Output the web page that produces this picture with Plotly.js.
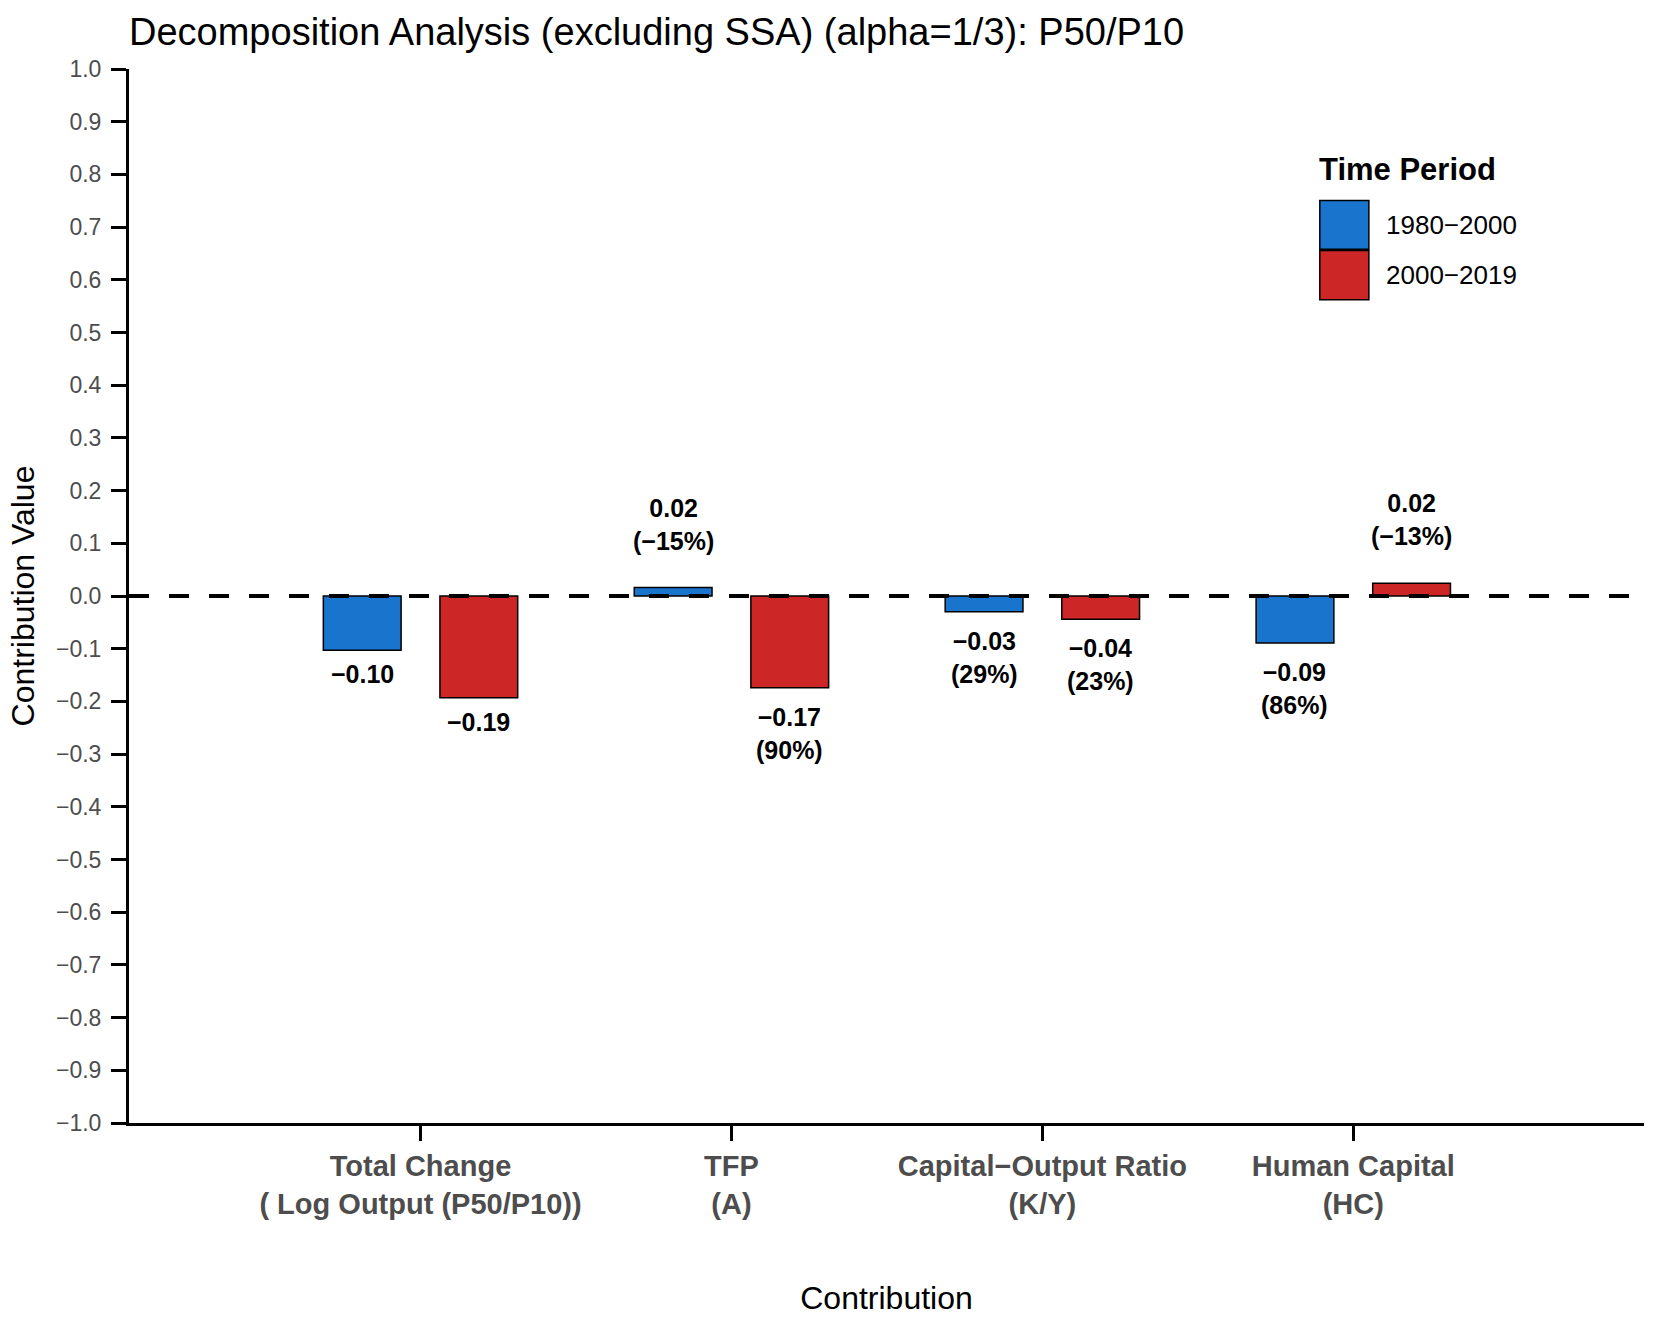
<!DOCTYPE html>
<html>
<head>
<meta charset="utf-8">
<script src="https://cdn.plot.ly/plotly-3.0.1.min.js"></script>
<style>html,body{margin:0;padding:0;background:#fff;}#chart{width:1661px;height:1330px;}</style>
</head>
<body>
<div id="chart"></div>
<script>
// ---- data ----
const categories = [
  'Total Change<br>( Log Output (P50/P10))',
  'TFP<br>(A)',
  'Capital\u2212Output Ratio<br>(K/Y)',
  'Human Capital<br>(HC)'
];
const periods = ['1980\u22122000', '2000\u22122019'];
const values1980 = [-0.103, 0.016, -0.030, -0.089];
const values2000 = [-0.193, -0.174, -0.044, 0.024];
const share1980 = [null, '\u221215%', '29%', '86%'];
const share2000 = [null, '90%', '23%', '\u221213%'];
const colors = ['#1874CD', '#CD2626'];
const yTickVals = [-1.0,-0.9,-0.8,-0.7,-0.6,-0.5,-0.4,-0.3,-0.2,-0.1,0.0,0.1,0.2,0.3,0.4,0.5,0.6,0.7,0.8,0.9,1.0];

const FONT = 'Liberation Sans, Arial, Helvetica, sans-serif';
const series = [values1980, values2000];
const shares = [share1980, share2000];
const offsets = [-0.1875, 0.1875];

function fmt(v) {
  const s = v.toFixed(2);
  return s.replace('-', '\u2212');
}

const traces = series.map((vals, s) => ({
  type: 'bar',
  name: periods[s],
  x: categories,
  y: vals,
  marker: {color: colors[s], line: {color: '#000', width: 1.5}},
  showlegend: false,
  hoverinfo: 'x+y'
}));

const annotations = [];
series.forEach((vals, s) => {
  vals.forEach((v, i) => {
    const sh = shares[s][i];
    const txt = fmt(v) + (sh ? '<br>(' + sh + ')' : '');
    annotations.push({
      x: i + offsets[s], xref: 'x',
      y: v, yref: 'y',
      text: txt,
      showarrow: false,
      xanchor: 'center',
      yanchor: v < 0 ? 'top' : 'bottom',
      yshift: v < 0 ? (sh ? -13 : -8) : 31,
      font: {family: FONT, size: 25, color: '#000', weight: 'bold'}
    });
  });
});

// custom legend
const legX0 = 0.786, legX1 = 0.8184;
const legRows = [[0.8753, 0.8291], [0.8278, 0.781]];
annotations.push({
  x: legX0 - 0.002, xref: 'paper', y: 0.9051, yref: 'paper',
  text: 'Time Period', showarrow: false, xanchor: 'left', yanchor: 'middle',
  font: {family: FONT, size: 31, color: '#000', weight: 'bold'}
});
const shapes = [];
periods.forEach((p, s) => {
  shapes.push({
    type: 'rect', xref: 'paper', yref: 'paper',
    x0: legX0, x1: legX1, y0: legRows[s][1], y1: legRows[s][0],
    fillcolor: colors[s], line: {color: '#000', width: 1.5}, layer: 'above'
  });
  annotations.push({
    x: 0.8282, xref: 'paper', y: (legRows[s][0] + legRows[s][1]) / 2, yref: 'paper',
    text: p, showarrow: false, xanchor: 'left', yanchor: 'middle',
    font: {family: FONT, size: 26, color: '#000'}
  });
});

// zero reference line
shapes.push({
  type: 'line', xref: 'paper', x0: 0, x1: 1, yref: 'y', y0: 0, y1: 0,
  line: {color: '#000', width: 4, dash: '20px,20px'}, layer: 'above'
});

const layout = {
  width: 1661, height: 1330,
  margin: {l: 129, r: 17, t: 69, b: 207, pad: 0},
  paper_bgcolor: '#fff', plot_bgcolor: '#fff',
  font: {family: FONT, color: '#000'},
  title: {
    text: 'Decomposition Analysis (excluding SSA) (alpha=1/3): P50/P10',
    x: 0, xref: 'paper', xanchor: 'left',
    y: 0.9763, yref: 'container', yanchor: 'middle',
    font: {family: FONT, size: 38, color: '#000'}
  },
  barmode: 'group', bargap: 0.25, bargroupgap: 0.333,
  xaxis: {
    type: 'category',
    range: [-0.9376, 3.935],
    showline: true, linecolor: '#000', linewidth: 3,
    ticks: 'outside', ticklen: 15, tickwidth: 3, tickcolor: '#000',
    showgrid: false, zeroline: false,
    tickfont: {family: FONT, size: 29, color: '#4D4D4D', weight: 'bold'},
    ticklabelstandoff: 0,
    title: {text: 'Contribution', font: {family: FONT, size: 32, color: '#000'}, standoff: 69},
    automargin: false
  },
  yaxis: {
    range: [-1, 1],
    tickvals: yTickVals,
    tickformat: '.1f',
    showline: true, linecolor: '#000', linewidth: 3,
    ticks: 'outside', ticklen: 15, tickwidth: 3, tickcolor: '#000',
    showgrid: false, zeroline: false,
    tickfont: {family: FONT, size: 23, color: '#4D4D4D'},
    ticklabelstandoff: 5,
    title: {text: 'Contribution Value', font: {family: FONT, size: 32, color: '#000'}, standoff: 12},
    automargin: false
  },
  shapes: shapes,
  annotations: annotations
};

Plotly.newPlot('chart', traces, layout, {displayModeBar: false, staticPlot: true});
</script>
</body>
</html>
